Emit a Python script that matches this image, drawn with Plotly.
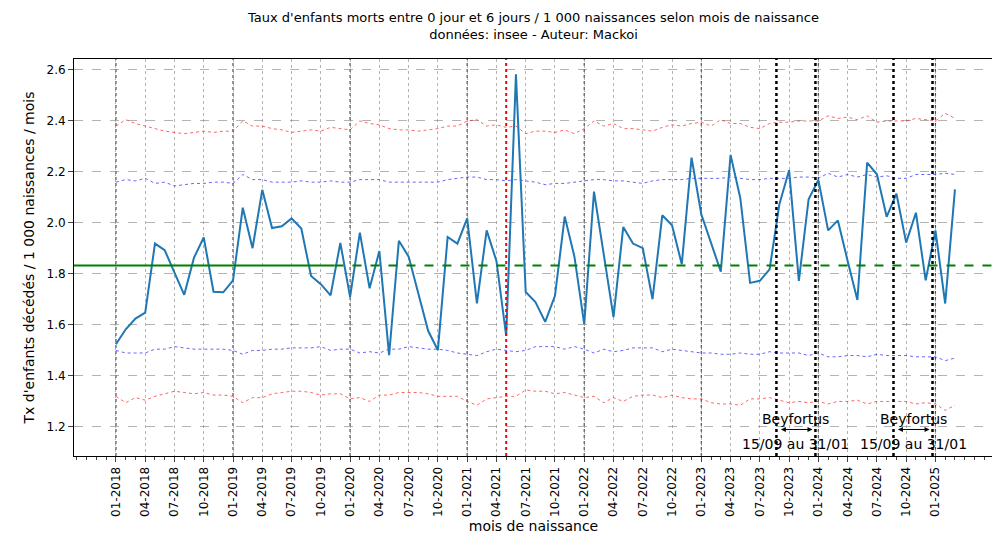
import plotly.graph_objects as go

months = [f"{m:02d}-{y}" for y in range(2018, 2026) for m in range(1, 13)][:87]
taux = [1.524,1.583,1.625,1.648,1.919,1.893,1.805,1.718,1.864,1.943,1.730,1.728,1.775,2.060,1.901,2.130,
        1.980,1.987,2.018,1.978,1.792,1.760,1.716,1.922,1.710,1.962,1.744,1.890,1.481,1.930,1.868,1.727,
        1.577,1.501,1.945,1.919,2.018,1.685,1.971,1.851,1.557,2.583,1.729,1.690,1.612,1.714,2.025,1.867,
        1.603,2.123,1.877,1.631,1.984,1.919,1.901,1.701,2.030,1.991,1.838,2.256,2.034,1.922,1.809,2.267,
        2.097,1.765,1.773,1.818,2.073,2.207,1.773,2.093,2.169,1.971,2.010,1.851,1.698,2.237,2.191,2.024,
        2.115,1.923,2.040,1.775,1.971,1.684,2.132]
haut2 = [2.38,2.405,2.39,2.38,2.37,2.36,2.355,2.35,2.355,2.36,2.355,2.36,2.36,2.40,2.38,2.38,2.37,2.365,2.355,
         2.36,2.365,2.36,2.375,2.37,2.365,2.40,2.39,2.385,2.37,2.365,2.365,2.36,2.365,2.37,2.38,2.38,2.40,
         2.405,2.38,2.385,2.375,2.38,2.35,2.36,2.36,2.355,2.365,2.35,2.37,2.40,2.38,2.39,2.37,2.37,2.365,
         2.36,2.375,2.385,2.38,2.39,2.395,2.38,2.405,2.39,2.39,2.375,2.37,2.39,2.395,2.395,2.40,2.40,2.40,
         2.42,2.41,2.415,2.405,2.42,2.395,2.40,2.40,2.40,2.41,2.405,2.40,2.43,2.41]
haut1 = [2.16,2.17,2.165,2.175,2.155,2.16,2.145,2.15,2.155,2.155,2.16,2.16,2.155,2.19,2.17,2.17,2.16,2.16,
         2.16,2.165,2.16,2.16,2.165,2.16,2.16,2.17,2.17,2.17,2.16,2.16,2.16,2.16,2.16,2.16,2.17,2.175,2.18,
         2.18,2.17,2.17,2.165,2.17,2.165,2.16,2.15,2.155,2.155,2.16,2.165,2.17,2.17,2.165,2.165,2.16,2.155,
         2.165,2.17,2.17,2.17,2.175,2.175,2.175,2.175,2.18,2.175,2.17,2.17,2.175,2.175,2.175,2.18,2.18,2.175,
         2.195,2.18,2.19,2.18,2.19,2.18,2.185,2.175,2.175,2.19,2.19,2.19,2.195,2.19]
bas1 = [1.50,1.49,1.49,1.49,1.505,1.505,1.515,1.51,1.505,1.505,1.505,1.505,1.50,1.485,1.50,1.50,1.505,1.505,
        1.51,1.51,1.51,1.515,1.50,1.505,1.505,1.49,1.495,1.49,1.505,1.505,1.515,1.51,1.505,1.505,1.50,1.49,
        1.485,1.48,1.495,1.505,1.50,1.495,1.50,1.515,1.515,1.515,1.505,1.515,1.505,1.49,1.505,1.495,1.50,
        1.51,1.51,1.51,1.495,1.505,1.50,1.495,1.49,1.49,1.485,1.485,1.49,1.485,1.485,1.495,1.49,1.49,1.49,
        1.48,1.49,1.475,1.475,1.48,1.48,1.475,1.485,1.48,1.48,1.48,1.475,1.475,1.475,1.46,1.47]
bas2 = [1.32,1.295,1.315,1.305,1.32,1.33,1.34,1.335,1.33,1.335,1.325,1.325,1.32,1.295,1.315,1.315,1.33,1.335,
        1.34,1.34,1.335,1.325,1.33,1.33,1.31,1.315,1.30,1.325,1.325,1.335,1.335,1.335,1.33,1.32,1.32,1.32,
        1.30,1.285,1.31,1.315,1.32,1.32,1.345,1.34,1.34,1.33,1.335,1.325,1.315,1.32,1.295,1.315,1.30,1.32,
        1.325,1.325,1.315,1.325,1.315,1.31,1.31,1.295,1.29,1.29,1.285,1.31,1.31,1.315,1.305,1.295,1.30,
        1.295,1.30,1.29,1.30,1.30,1.305,1.29,1.30,1.30,1.30,1.30,1.29,1.295,1.29,1.265,1.285]
moyenne = 1.833
tick_idx = list(range(0, 87, 3))

x = list(range(87))
fig = go.Figure()
for y, c in [(haut2, "rgba(255,0,0,0.6)"), (haut1, "rgba(0,0,255,0.6)"), (bas1, "rgba(0,0,255,0.6)"), (bas2, "rgba(255,0,0,0.6)")]:
    fig.add_trace(go.Scatter(x=x, y=y, mode="lines", line=dict(color=c, width=1, dash="dot"), showlegend=False))
fig.add_trace(go.Scatter(x=x, y=taux, mode="lines", line=dict(color="#1f77b4", width=2), showlegend=False))
fig.add_trace(go.Scatter(x=[-4.3, 22.4], y=[moyenne]*2, mode="lines", line=dict(color="green", width=2), showlegend=False))
fig.add_trace(go.Scatter(x=[22.4, 90], y=[moyenne]*2, mode="lines", line=dict(color="green", width=2, dash="dash"), showlegend=False))

shapes = []
for j in range(0, 87, 12):
    shapes.append(dict(type="line", xref="x", yref="paper", x0=j, x1=j, y0=0, y1=1, line=dict(color="rgba(0,0,0,0.7)", width=1.2, dash="dot"), layer="below"))
shapes.append(dict(type="line", xref="x", yref="paper", x0=40, x1=40, y0=0, y1=1, line=dict(color="red", width=2, dash="dot")))
for v in [67.7, 71.7, 79.7, 83.7]:
    shapes.append(dict(type="line", xref="x", yref="paper", x0=v, x1=v, y0=0, y1=1, line=dict(color="black", width=2.5, dash="dot")))
fig.update_layout(shapes=shapes)

anns = []
for a, b in [(67.7, 71.7), (79.7, 83.7)]:
    m = (a + b) / 2
    anns.append(dict(x=m, y=1.23, text="Beyfortus", showarrow=False, font=dict(size=14, color="black"), yanchor="middle"))
    anns.append(dict(x=m, y=1.135, text="15/09 au 31/01", showarrow=False, font=dict(size=14, color="black"), yanchor="middle"))
    anns.append(dict(x=b - 0.3, y=1.19, ax=a + 0.3, ay=1.19, xref="x", yref="y", axref="x", ayref="y", text="", showarrow=True, arrowhead=2, arrowside="end+start", arrowsize=1, arrowwidth=1, arrowcolor="black"))
fig.update_layout(annotations=anns)

fig.update_layout(
    width=1000, height=550, plot_bgcolor="white", paper_bgcolor="white",
    font=dict(family="DejaVu Sans", size=12, color="black"),
    margin=dict(l=66, r=15, t=51, b=102),
    title=dict(text="Taux d'enfants morts entre 0 jour et 6 jours / 1 000 naissances selon mois de naissance<br>données: insee - Auteur: Mackoi",
               x=0.5, xanchor="center", xref="paper", yref="container", y=0.975, yanchor="top", font=dict(size=13), automargin=False),
    xaxis=dict(range=[-4.3, 89.9], tickmode="array", tickvals=tick_idx, ticktext=[months[i] for i in tick_idx],
               tickangle=-90, ticks="outside", showgrid=True, gridcolor="rgba(128,128,128,0.6)", griddash="dot",
               showline=True, linecolor="black", mirror=True, zeroline=False, automargin=False,
               minor=dict(dtick=1, tick0=0, ticks="outside", ticklen=3, showgrid=False),
               title=dict(text="mois de naissance", standoff=5)),
    yaxis=dict(range=[1.086, 2.643], dtick=0.2, tick0=1.2, tickformat=".1f", ticks="outside",
               showgrid=True, gridcolor="rgba(128,128,128,0.6)", griddash="dash", zeroline=False,
               showline=True, linecolor="black", mirror=True, automargin=False,
               title=dict(text="Tx d'enfants décédés / 1 000 naissances / mois", standoff=8)),
)
fig.write_html("out.html")
